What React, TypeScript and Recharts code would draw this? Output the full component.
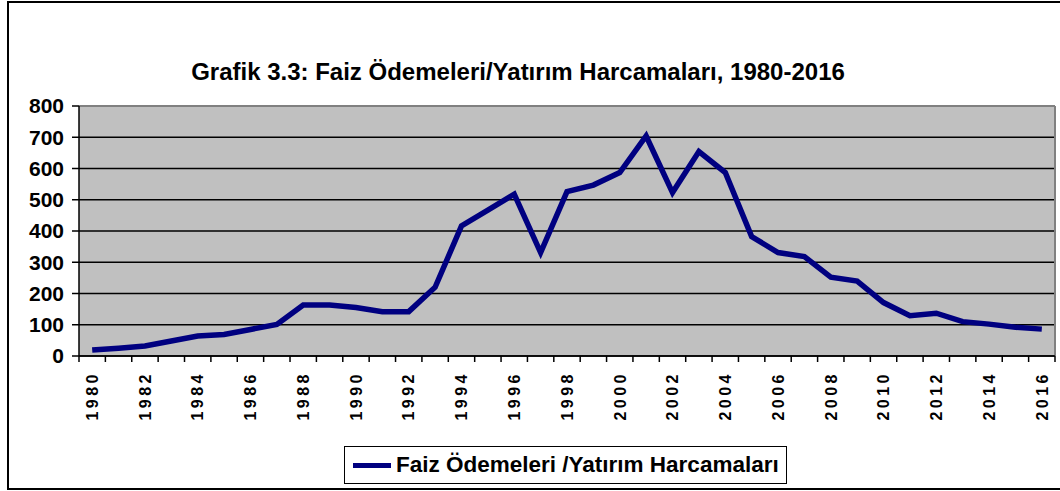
import React from 'react';
import { LineChart, Line, XAxis, YAxis, CartesianGrid } from 'recharts';

const years = [
  '1980', '1981', '1982', '1983', '1984', '1985', '1986', '1987', '1988', '1989',
  '1990', '1991', '1992', '1993', '1994', '1995', '1996', '1997', '1998', '1999',
  '2000', '2001', '2002', '2003', '2004', '2005', '2006', '2007', '2008', '2009',
  '2010', '2011', '2012', '2013', '2014', '2015', '2016',
];

const ratio = [
  19, 25, 32, 48, 64, 69, 85, 101, 163, 163,
  155, 142, 142, 220, 416, 467, 518, 331, 526, 547,
  587, 704, 523, 654, 587, 382, 331, 318, 252, 240,
  171, 129, 137, 110, 102, 92, 86,
];

const yTicks = [0, 100, 200, 300, 400, 500, 600, 700, 800];

const TITLE = 'Grafik 3.3: Faiz Ödemeleri/Yatırım Harcamaları, 1980-2016';
const SERIES = 'Faiz Ödemeleri /Yatırım Harcamaları';

const data = years.map((year, i) => ({ year, value: ratio[i] }));

const FONT = '"Liberation Sans", Arial, sans-serif';

// Excel style: tick marks between categories, a label on every second year
const YearTick = ({ x, y, payload, index, width, visibleTicksCount }: any) => {
  const half = width / visibleTicksCount / 2;
  const axisY = y - 8;
  const last = index === visibleTicksCount - 1;
  return (
    <g>
      <line x1={x - half} x2={x - half} y1={axisY} y2={axisY + 6} stroke="#000" strokeWidth={1.5} />
      {last && (
        <line x1={x + half} x2={x + half} y1={axisY} y2={axisY + 6} stroke="#000" strokeWidth={1.5} />
      )}
      {index % 2 === 0 && (
        <text
          transform={`translate(${x},${axisY + 15}) rotate(-90)`}
          textAnchor="end"
          dy="0.36em"
          fontFamily={FONT}
          fontWeight="bold"
          fontSize={16}
          fill="#000"
          style={{ letterSpacing: 3.5 }}
        >
          {payload.value}
        </text>
      )}
    </g>
  );
};

export default function App() {
  return (
    <div
      style={{
        position: 'absolute',
        left: 0,
        top: 0,
        width: 1060,
        height: 491,
        overflow: 'hidden',
        background: '#fff',
        fontFamily: FONT,
      }}
    >
      {/* outer frame */}
      <div
        style={{
          position: 'absolute',
          left: 7,
          top: 1,
          width: 1070,
          height: 485,
          border: '2px solid #000',
        }}
      />
      <div
        style={{
          position: 'absolute',
          left: 0,
          width: 1036,
          top: 57,
          textAlign: 'center',
          fontWeight: 'bold',
          fontSize: 24,
          lineHeight: '30px',
          color: '#000',
          whiteSpace: 'nowrap',
        }}
      >
        {TITLE}
      </div>

      <div style={{ position: 'absolute', left: 0, top: 0 }}>
        <LineChart
          width={1060}
          height={491}
          data={data}
          margin={{ top: 106, right: 5, left: 19, bottom: 95 }}
        >
          <CartesianGrid
            fill="#C0C0C0"
            stroke="#000"
            strokeWidth={1.5}
            vertical={false}
            fillOpacity={1}
          />
          <CartesianGrid
            stroke="#808080"
            strokeWidth={2}
            horizontal={false}
            verticalCoordinatesGenerator={({ offset }: any) => [offset.left + offset.width]}
          />
          <CartesianGrid
            stroke="#808080"
            strokeWidth={2}
            vertical={false}
            horizontalCoordinatesGenerator={({ offset }: any) => [offset.top]}
          />
          <XAxis
            dataKey="year"
            scale="band"
            interval={0}
            tickLine={false}
            axisLine={{ stroke: '#000', strokeWidth: 1.5 }}
            tick={<YearTick />}
            height={40}
          />
          <YAxis
            domain={[0, 800]}
            ticks={yTicks}
            interval={0}
            width={60}
            tickSize={7}
            tickMargin={8}
            tickLine={{ stroke: '#000', strokeWidth: 1.5 }}
            axisLine={{ stroke: '#000', strokeWidth: 1.5 }}
            tick={{ fontFamily: FONT, fontWeight: 'bold', fontSize: 21, fill: '#000' }}
          />
          <Line
            type="linear"
            dataKey="value"
            name={SERIES}
            stroke="#000080"
            strokeWidth={5.5}
            dot={false}
            isAnimationActive={false}
          />
        </LineChart>
      </div>

      {/* legend */}
      <div
        style={{
          position: 'absolute',
          left: 344,
          top: 446,
          width: 441,
          height: 36,
          border: '1.5px solid #000',
          background: '#fff',
          display: 'flex',
          alignItems: 'center',
          boxSizing: 'content-box',
        }}
      >
        <span
          style={{
            display: 'inline-block',
            width: 38,
            height: 5,
            background: '#000080',
            marginLeft: 8,
            marginRight: 5,
          }}
        />
        <span style={{ fontWeight: 'bold', fontSize: 22.5, color: '#000', whiteSpace: 'nowrap' }}>
          {SERIES}
        </span>
      </div>
    </div>
  );
}
